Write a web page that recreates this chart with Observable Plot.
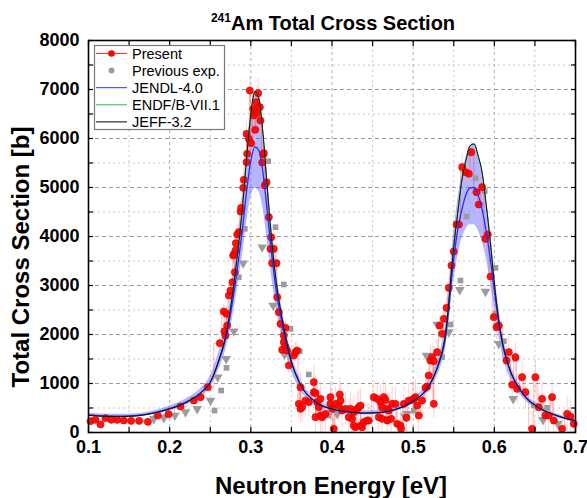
<!DOCTYPE html>
<html><head><meta charset="utf-8">
<script src="https://cdn.jsdelivr.net/npm/d3@7"></script>
<script src="https://cdn.jsdelivr.net/npm/@observablehq/plot@0.6"></script>
<style>
body{margin:0;background:#fff;}
svg{font-family:"Liberation Sans",Arial,sans-serif;}
</style>
</head><body><div id="chart"></div>
<script>
// ---- Data ----
const energyGrid = [0.10,0.12,0.14,0.16,0.18,0.20,0.22,0.24,0.25,0.26,0.27,0.28,0.285,0.29,0.295,0.30,0.305,0.31,0.315,0.32,0.325,0.33,0.34,0.35,0.36,0.38,0.40,0.42,0.44,0.46,0.48,0.50,0.52,0.53,0.54,0.55,0.555,0.56,0.565,0.57,0.575,0.58,0.585,0.59,0.595,0.60,0.605,0.61,0.62,0.63,0.64,0.65,0.66,0.68,0.70];
const jeff32 = [350,330,325,340,395,480,610,830,1020,1450,2050,3150,3850,4650,5650,6500,6960,6800,6100,5050,4050,3250,2200,1450,1020,620,480,420,395,410,480,640,970,1350,2050,3800,4500,5150,5550,5850,5890,5650,5300,4650,3900,3050,2350,1850,1250,920,700,560,460,330,240];
const endf71 = [350,330,325,340,395,480,610,830,1020,1450,2050,3150,3850,4650,5650,6500,6960,6800,6100,5050,4050,3250,2200,1450,1020,620,480,420,395,410,480,640,970,1350,2050,3800,4500,5150,5550,5850,5890,5650,5300,4650,3900,3050,2350,1850,1250,920,700,560,460,330,240];
const jendl40 = [360,340,335,350,400,490,620,840,1030,1430,1980,2950,3550,4200,4950,5550,5830,5750,5300,4550,3750,3050,2100,1420,1010,620,480,420,395,410,480,640,960,1320,1950,3550,4150,4550,4850,4990,5000,4850,4550,4100,3550,2900,2280,1800,1230,910,690,555,455,325,235];
const bandLow = [325,305,300,315,360,440,555,750,915,1260,1740,2580,3100,3650,4300,4800,4980,4920,4580,3950,3270,2660,1840,1250,895,555,435,380,355,370,435,575,855,1170,1720,3100,3600,3950,4150,4240,4240,4130,3900,3550,3100,2540,2010,1590,1090,810,620,500,410,290,210];
const bandHigh = [395,375,370,385,440,540,685,930,1150,1610,2240,3350,4050,4800,5700,6450,6900,6800,6200,5300,4350,3520,2400,1610,1135,690,530,465,440,455,530,710,1075,1490,2220,4100,4750,5250,5600,5850,5880,5700,5300,4750,4150,3330,2610,2050,1390,1020,770,615,505,360,260];

// Present measurement: [energy eV, cross section b, uncertainty b]
const present = [
[0.1025,231,20],[0.1086,259,20],[0.1148,163,20],[0.1209,292,20],[0.128,259,20],[0.1353,259,20],[0.1435,245,20],[0.1526,238,20],[0.1624,238,20],[0.1731,218,20],[0.1854,347,30],[0.1986,374,30],[0.2133,531,40],[0.2298,653,50],[0.238,721,60],[0.247,925,80],
[0.2618,1822,120],[0.2667,2469,150],[0.2675,2067,150],[0.2688,1980,150],[0.2701,2422,150],[0.2709,2184,150],[0.2729,2796,150],[0.2749,2898,180],[0.2774,3067,180],[0.2783,3612,180],[0.279,3633,180],[0.2803,3271,180],[0.2811,3714,200],[0.2815,3863,200],[0.2832,4041,200],[0.2852,4088,200],[0.2873,4510,200],[0.2881,4586,200],[0.2906,4994,250],[0.2913,5157,250],[0.2947,5517,250],[0.2947,6095,250],[0.2955,5687,250],[0.2975,5993,250],[0.2987,6980,300],[0.3004,5905,300],[0.3029,6605,300],[0.3037,6469,300],[0.3049,6537,300],[0.3054,6177,300],[0.307,6741,300],[0.3078,6517,300],[0.309,6925,300],[0.3111,6639,300],[0.3119,6367,300],[0.314,5510,250],[0.3152,5673,250],[0.316,5700,250],[0.3172,5041,250],[0.3193,5108,250],[0.3222,4394,200],[0.3242,3749,200],[0.3251,3986,200],[0.3263,3455,200],[0.3283,3749,200],[0.3316,3455,200],[0.3325,2761,180],[0.3345,2455,180],[0.3365,2218,180],[0.3386,1688,150],[0.3406,1980,150],[0.3406,1843,150],[0.3427,2137,150],[0.3427,1755,150],[0.3448,1673,150],[0.3468,1367,150],[0.3529,1571,200],[0.355,1639,200],[0.357,1673,200],
[0.3591,585,300],[0.3612,925,300],[0.3612,483,300],[0.3632,517,300],[0.3673,653,300],[0.3714,619,300],[0.3776,823,350],[0.3776,1027,350],[0.3797,803,350],[0.3797,313,350],[0.3817,619,350],[0.3837,517,350],[0.3858,347,350],[0.3858,687,350],[0.3879,313,350],[0.392,381,350],[0.3981,721,350],[0.3981,585,350],[0.4002,483,350],[0.4022,75,350],[0.4043,585,350],[0.4084,551,350],[0.4096,776,350],[0.4105,653,350],[0.4125,449,350],[0.4166,483,350],[0.4207,313,350],[0.4228,483,350],[0.4248,279,350],[0.4268,415,350],[0.4268,143,350],[0.4289,109,350],[0.431,483,350],[0.433,517,350],[0.4351,551,350],[0.4351,143,350],[0.4371,109,350],[0.4392,211,350],[0.4433,245,350],[0.4453,245,350],[0.4515,721,350],[0.4556,687,350],[0.4576,313,350],[0.4597,620,350],[0.4618,517,350],[0.4618,279,350],[0.4638,721,350],[0.4659,666,350],[0.468,245,350],[0.468,483,350],[0.47,449,350],[0.4729,279,350],[0.4741,585,350],[0.4782,585,350],[0.4803,177,350],[0.4844,143,350],[0.4852,75,350],[0.4885,585,350],[0.4918,299,350],[0.4946,653,350],[0.4987,666,350],[0.5008,687,350],[0.5028,721,350],[0.5049,551,350],[0.5069,347,350],[0.511,653,350],[0.5152,912,300],[0.5172,938,300],[0.5192,1163,300],[0.5213,1469,300],[0.5233,1537,300],[0.5254,585,300],[0.5254,1455,300],[0.5295,1639,250],
[0.5328,2184,200],[0.5357,2014,200],[0.5378,2320,200],[0.5411,2545,200],[0.5439,2953,200],[0.5472,3408,200],[0.55,3694,200],[0.5534,4245,250],[0.5563,4245,250],[0.5604,5414,250],[0.5645,5313,250],[0.5686,5279,250],[0.5715,5721,250],[0.578,4905,250],[0.5809,4653,250],[0.585,5007,250],[0.5891,3953,250],[0.592,4041,250],[0.5953,3184,250],[0.5993,2354,250],[0.6027,2150,250],[0.6055,2184,250],
[0.615,1469,300],[0.6178,1639,300],[0.6219,973,300],[0.626,1537,300],[0.6281,891,300],[0.6342,1129,350],[0.6383,823,350],[0.6465,75,350],[0.6506,1129,350],[0.6547,517,350],[0.6588,687,350],[0.6629,347,350],[0.667,347,350],[0.6712,721,350],[0.6732,245,350],[0.6835,75,350],[0.6897,381,350],[0.6938,327,350],[0.6979,177,350]
];

// Previous experiments (two data sets)
const previousSquares = [[0.2553,449],[0.2634,857],[0.27,1319],[0.2852,3169],[0.2926,4157],[0.3214,5537],[0.3304,4190],[0.3406,3020],[0.3489,2116],[0.3603,1659],[0.3714,1184],[0.396,347],[0.5008,449],[0.5357,1537],[0.546,2204],[0.5583,3102],[0.5657,4408],[0.5768,5190],[0.5882,4925],[0.6014,3361],[0.6014,2422],[0.6117,1864],[0.626,1503],[0.6486,551],[0.665,503]];
const previousTriangles = [[0.1805,279],[0.1928,299],[0.2064,347],[0.2195,415],[0.2339,483],[0.2503,653],[0.2593,1129],[0.2696,1503],[0.279,2067],[0.2906,3455],[0.314,3782],[0.3275,2592],[0.3415,1592],[0.3879,347],[0.4064,381],[0.468,279],[0.49,326],[0.4926,381],[0.5164,1571],[0.5296,2204],[0.5439,2048],[0.5575,2912],[0.5891,2877],[0.6055,1810],[0.6232,687],[0.66,258],[0.6783,177]];

const xTickLabels = [0.1,0.2,0.3,0.4,0.5,0.6,0.7];
const xMinorTicks = [0.1,0.15,0.2,0.25,0.3,0.35,0.4,0.45,0.5,0.55,0.6,0.65,0.7];
const yTickLabels = [0,1000,2000,3000,4000,5000,6000,7000,8000];
const yMinorTicks = [0,500,1000,1500,2000,2500,3000,3500,4000,4500,5000,5500,6000,6500,7000,7500,8000];
const xGridMajor = [0.2,0.3,0.4,0.5,0.6];
const xGridMinor = [0.15,0.25,0.35,0.45,0.55,0.65];
const yGridMajor = [1000,2000,3000,4000,5000,6000,7000];
const yGridMinor = [500,1500,2500,3500,4500,5500,6500,7500];

const legendItems = [
  {label:"Present", kind:"present"},
  {label:"Previous exp.", kind:"prev"},
  {label:"JENDL-4.0", kind:"line", color:"#2a2aff"},
  {label:"ENDF/B-VII.1", kind:"line", color:"#33bb33"},
  {label:"JEFF-3.2", kind:"line", color:"#000000"}
];

// ---- Build tables ----
const curveTable = energyGrid.map((e,i)=>({e, jeff:jeff32[i], endf:endf71[i], jendl:jendl40[i], lo:bandLow[i], hi:bandHigh[i]}));
const presentTable = present.map(([e,s,u])=>({e,s,u})).sort((a,b)=>a.e-b.e);
const sqTable = previousSquares.map(([e,s])=>({e,s}));
const trTable = previousTriangles.map(([e,s])=>({e,s}));

const W = 587, H = 498;
const chart = Plot.plot({
  width: W, height: H,
  marginLeft: 88, marginRight: 12, marginTop: 40, marginBottom: 66,
  style: {fontFamily: '"Liberation Sans", Arial, sans-serif', background: "#fff"},
  x: {domain: [0.1, 0.7], label: null},
  y: {domain: [0, 8000], label: null},
  marks: [
    Plot.gridY(yGridMinor, {stroke:"#c8c8c8", strokeOpacity:1, strokeDasharray:"2,3"}),
    Plot.gridY(yGridMajor, {stroke:"#9a9a9a", strokeOpacity:1, strokeDasharray:"4,3"}),
    Plot.gridX(xGridMinor, {stroke:"#c8c8c8", strokeOpacity:1, strokeDasharray:"2,3"}),
    Plot.gridX(xGridMajor, {stroke:"#b0b0b0", strokeOpacity:1, strokeDasharray:"3,3"}),
    Plot.areaY(curveTable, {x:"e", y1:"lo", y2:"hi", fill:"#5a5aff", fillOpacity:0.45, curve:"monotone-x"}),
    Plot.ruleX(presentTable, {x:"e", y1:d=>d.s-d.u, y2:d=>d.s+d.u, stroke:"#ffb4b4", strokeOpacity:0.6, strokeWidth:1, clip:true}),
    Plot.line(presentTable, {x:"e", y:"s", stroke:"#ff3030", strokeOpacity:0.4, strokeWidth:0.9, curve:"step"}),
    Plot.dot(sqTable, {x:"e", y:"s", symbol:"square", r:3.2, fill:"#9c9c9c", stroke:null}),
    Plot.dot(trTable, {x:"e", y:"s", symbol:"triangle", rotate:180, r:3.6, fill:"#9c9c9c", stroke:null}),
    Plot.dot(presentTable, {x:"e", y:"s", r:3.6, fill:"#ff0000", fillOpacity:0.92, stroke:"#dd0000", strokeWidth:0.6}),
    Plot.line(curveTable, {x:"e", y:"endf", stroke:"#33bb33", strokeWidth:1, curve:"monotone-x"}),
    Plot.line(curveTable, {x:"e", y:"jendl", stroke:"#2a2aff", strokeWidth:1.3, curve:"monotone-x"}),
    Plot.line(curveTable, {x:"e", y:"jeff", stroke:"#111", strokeWidth:1, curve:"monotone-x"}),
    // inner ticks on all four sides
    Plot.axisX(xMinorTicks, {anchor:"bottom", tickSize:-5, tickFormat:()=>"", label:null, strokeWidth:1.2}),
    Plot.axisX(xMinorTicks, {anchor:"top", tickSize:-5, tickFormat:()=>"", label:null, strokeWidth:1.2}),
    Plot.axisY(yMinorTicks, {anchor:"left", tickSize:-5, tickFormat:()=>"", label:null, strokeWidth:1.2}),
    Plot.axisY(yMinorTicks, {anchor:"right", tickSize:-5, tickFormat:()=>"", label:null, strokeWidth:1.2}),
    // labels
    Plot.axisX(xTickLabels, {anchor:"bottom", tickSize:0, tickPadding:8, tickFormat:d3.format(".1f"), label:null, fontSize:18, fontWeight:"bold", fill:"#000"}),
    Plot.axisY(yTickLabels, {anchor:"left", tickSize:0, tickPadding:9, tickFormat:d=>String(d), label:null, fontSize:18, fontWeight:"bold", fill:"#000"}),
    Plot.frame({stroke:"#000", strokeWidth:1.6})
  ]
});
document.getElementById("chart").appendChild(chart);

const svg = d3.select(chart);
// Title with superscript
const title = svg.append("text").attr("x", 333).attr("y", 30).attr("text-anchor","middle")
  .style("font-size","20px").style("font-weight","bold").attr("fill","#000");
title.append("tspan").text("241").style("font-size","12px").attr("dy","-8");
title.append("tspan").text("Am Total Cross Section").attr("dy","8");
// Axis titles
svg.append("text").attr("x", 331).attr("y", 494).attr("text-anchor","middle")
  .style("font-size","24px").style("font-weight","bold").attr("fill","#000").text("Neutron Energy [eV]");
svg.append("text").attr("transform","translate(29,257) rotate(-90)").attr("text-anchor","middle")
  .style("font-size","24px").style("font-weight","bold").attr("fill","#000").text("Total Cross Section [b]");

// Legend
const lg = svg.append("g");
lg.append("rect").attr("x",94.5).attr("y",45.5).attr("width",130).attr("height",84)
  .attr("fill","#fff").attr("stroke","#777").attr("stroke-width",1.2);
legendItems.forEach((it,i)=>{
  const y = 53.5 + i*17.1;
  if (it.kind === "present") {
    lg.append("line").attr("x1",96).attr("x2",127).attr("y1",y).attr("y2",y).attr("stroke","#ff3030").attr("stroke-width",1);
    lg.append("circle").attr("cx",111.5).attr("cy",y).attr("r",3.3).attr("fill","#ff0000");
  } else if (it.kind === "prev") {
    lg.append("circle").attr("cx",111.5).attr("cy",y).attr("r",3).attr("fill","#9c9c9c");
  } else {
    lg.append("line").attr("x1",96).attr("x2",127).attr("y1",y).attr("y2",y).attr("stroke",it.color).attr("stroke-width",1);
  }
  lg.append("text").attr("x",132).attr("y",y+5).attr("text-anchor","start").style("font-size","14.5px").attr("fill","#000").text(it.label);
});
</script>
</body></html>
